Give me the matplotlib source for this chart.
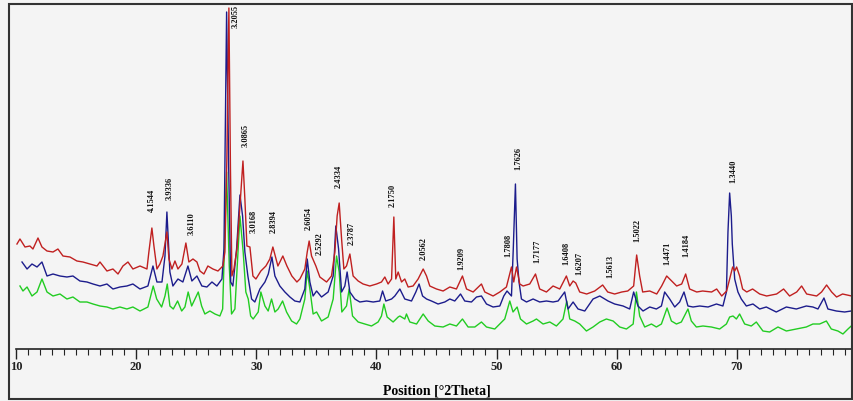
# XRD pattern of three samples with d-spacing labels on the main reflections
import matplotlib.pyplot as plt
from matplotlib.patches import Rectangle
from matplotlib.ticker import MultipleLocator

plt.rcParams['font.family'] = ['Liberation Serif', 'DejaVu Serif']

# --- data (2theta in degrees, intensity in arbitrary offset units) ---
red_theta = [10.08, 10.33, 10.75, 11.16, 11.41, 11.83, 12.16, 12.58, 13.08, 13.49, 13.91, 14.49,
             15.07, 15.57, 16.16, 16.74, 16.99, 17.57, 18.07, 18.49, 18.90, 19.32, 19.73, 20.32,
             20.90, 21.06, 21.31, 21.48, 21.73, 21.98, 22.23, 22.56, 22.73, 22.98, 23.23, 23.48,
             23.81, 24.14, 24.39, 24.73, 25.06, 25.31, 25.64, 25.97, 26.39, 26.81, 27.22, 27.39,
             27.55, 27.72, 27.85, 27.97, 28.14, 28.39, 28.64, 28.89, 29.05, 29.22, 29.47, 29.72,
             29.97, 30.38, 30.80, 31.13, 31.38, 31.80, 32.21, 32.55, 32.96, 33.38, 33.63, 34.04,
             34.24, 34.40, 34.60, 34.96, 35.29, 35.85, 36.26, 36.54, 36.73, 36.90, 37.10, 37.29,
             37.51, 37.79, 38.06, 38.48, 38.89, 39.45, 40.01, 40.42, 40.70, 40.97, 41.26, 41.45,
             41.61, 41.81, 42.09, 42.36, 42.64, 43.05, 43.47, 43.89, 44.17, 44.44, 45.00, 45.55,
             46.11, 46.66, 47.16, 47.50, 48.05, 48.74, 49.02, 49.71, 50.27, 50.82, 51.24, 51.43,
             51.66, 51.93, 52.21, 52.76, 53.24, 53.59, 54.15, 54.70, 55.26, 55.81, 56.09, 56.37,
             56.59, 56.92, 57.50, 58.17, 58.83, 59.25, 59.83, 60.42, 60.92, 61.41, 61.66, 61.91,
             62.16, 62.75, 63.33, 63.74, 64.16, 64.58, 64.99, 65.41, 65.74, 66.07, 66.66, 67.15,
             67.90, 68.32, 68.74, 69.15, 69.40, 69.65, 69.82, 69.98, 70.23, 70.48, 70.82, 71.31,
             71.90, 72.48, 73.31, 73.89, 74.39, 74.98, 75.39, 75.81, 76.64, 77.05, 77.47, 77.89,
             78.30, 78.80, 79.55]
red_counts = [105, 110, 102, 103, 100, 111, 102, 98, 97, 100, 93, 92,
              88, 87, 85, 83, 87, 78, 80, 75, 83, 87, 80, 83,
              80, 97, 121, 103, 80, 85, 93, 117, 90, 80, 88, 80,
              85, 106, 87, 90, 87, 78, 75, 83, 80, 78, 83, 97,
              190, 341, 180, 73, 80, 100, 143, 188, 150, 103, 102, 73,
              70, 78, 83, 90, 102, 83, 93, 83, 73, 67, 70, 80,
              97, 108, 93, 83, 72, 67, 73, 97, 133, 146, 110, 80,
              83, 95, 73, 68, 65, 63, 65, 67, 72, 65, 70, 132,
              70, 77, 67, 70, 62, 63, 70, 80, 73, 63, 60, 58,
              62, 60, 73, 60, 57, 65, 57, 53, 57, 62, 82, 67,
              82, 65, 63, 65, 75, 60, 57, 63, 60, 73, 63, 68,
              66, 57, 55, 58, 64, 57, 55, 57, 58, 63, 94, 73,
              57, 58, 55, 63, 73, 68, 63, 65, 75, 60, 57, 58,
              57, 60, 53, 58, 70, 82, 78, 82, 73, 60, 57, 60,
              55, 53, 55, 60, 53, 57, 63, 55, 53, 57, 64, 57,
              52, 55, 53]

blue_theta = [10.50, 10.92, 11.33, 11.75, 12.16, 12.58, 13.08, 13.66, 14.24, 14.74, 15.32, 15.91,
              16.41, 16.99, 17.57, 18.07, 18.65, 19.23, 19.73, 20.32, 20.98, 21.40, 21.73, 22.15,
              22.40, 22.56, 22.81, 23.06, 23.48, 23.89, 24.31, 24.64, 25.06, 25.47, 25.89, 26.31,
              26.72, 27.14, 27.31, 27.53, 27.70, 27.87, 28.05, 28.36, 28.64, 28.86, 29.05, 29.30,
              29.61, 29.88, 30.30, 30.72, 31.00, 31.30, 31.55, 31.96, 32.38, 32.80, 33.21, 33.63,
              34.04, 34.24, 34.46, 34.73, 35.02, 35.43, 35.98, 36.40, 36.62, 36.85, 37.10, 37.37,
              37.56, 37.79, 38.20, 38.62, 39.18, 39.73, 40.28, 40.51, 40.78, 41.26, 41.53, 41.95,
              42.36, 42.92, 43.28, 43.55, 43.84, 44.17, 44.58, 45.13, 45.69, 46.11, 46.52, 47.00,
              47.35, 47.91, 48.33, 48.74, 49.16, 49.71, 50.27, 50.60, 50.87, 51.24, 51.39, 51.57,
              51.71, 51.87, 52.07, 52.49, 53.04, 53.59, 54.15, 54.70, 55.12, 55.42, 55.67, 55.95,
              56.37, 56.78, 57.34, 58.03, 58.59, 59.28, 59.83, 60.53, 61.08, 61.41, 61.77, 62.19,
              62.75, 63.30, 63.72, 63.99, 64.41, 64.83, 65.24, 65.60, 65.93, 66.35, 66.91, 67.60,
              68.30, 68.84, 69.13, 69.26, 69.40, 69.54, 69.62, 69.82, 70.09, 70.37, 70.79, 71.34,
              71.90, 72.45, 73.28, 74.12, 74.95, 75.78, 76.33, 76.75, 77.25, 77.58, 78.28, 78.97,
              79.52]
blue_counts = [87, 80, 85, 82, 87, 73, 75, 73, 72, 73, 68, 67,
               65, 63, 65, 60, 62, 63, 65, 60, 63, 83, 67, 67,
               93, 137, 77, 63, 70, 67, 83, 68, 73, 63, 62, 67,
               63, 70, 100, 337, 183, 67, 63, 100, 154, 133, 97, 73,
               50, 47, 60, 67, 75, 92, 73, 63, 57, 52, 48, 47,
               60, 90, 67, 53, 58, 52, 57, 73, 123, 100, 57, 63,
               77, 57, 50, 47, 48, 47, 48, 58, 48, 50, 53, 60,
               50, 48, 57, 65, 53, 50, 48, 45, 47, 50, 48, 55,
               48, 47, 52, 53, 45, 42, 43, 53, 58, 53, 100, 165,
               90, 67, 50, 47, 50, 47, 48, 47, 48, 53, 57, 40,
               47, 40, 38, 50, 53, 48, 45, 43, 40, 57, 43, 38,
               42, 40, 43, 57, 50, 42, 47, 57, 43, 42, 43, 42,
               45, 43, 57, 117, 156, 133, 105, 70, 57, 50, 43, 45,
               40, 42, 37, 42, 40, 43, 42, 40, 51, 40, 38, 37,
               38]

green_theta = [10.33, 10.58, 10.92, 11.33, 11.75, 12.16, 12.58, 13.08, 13.66, 14.24, 14.74, 15.32,
               15.91, 16.41, 16.99, 17.57, 18.07, 18.65, 19.23, 19.73, 20.32, 20.98, 21.29, 21.42,
               21.71, 22.12, 22.40, 22.59, 22.81, 23.09, 23.45, 23.79, 24.06, 24.33, 24.62, 24.89,
               25.17, 25.45, 25.72, 26.14, 26.56, 26.97, 27.20, 27.39, 27.53, 27.75, 27.94, 28.22,
               28.41, 28.64, 28.91, 29.13, 29.33, 29.53, 29.74, 30.16, 30.38, 30.72, 30.99, 31.27,
               31.55, 31.82, 32.19, 32.52, 32.94, 33.35, 33.63, 34.04, 34.24, 34.46, 34.73, 35.02,
               35.43, 35.98, 36.40, 36.68, 36.90, 37.12, 37.51, 37.73, 38.01, 38.48, 39.03, 39.59,
               40.14, 40.42, 40.62, 40.89, 41.39, 41.81, 41.95, 42.36, 42.50, 42.78, 43.34, 43.89,
               44.31, 44.86, 45.55, 46.11, 46.66, 47.16, 47.63, 48.19, 48.74, 49.16, 49.85, 50.27,
               50.68, 51.10, 51.37, 51.71, 51.99, 52.49, 53.04, 53.32, 53.87, 54.43, 54.98, 55.53,
               55.84, 56.09, 56.51, 56.92, 57.48, 58.03, 58.59, 59.14, 59.70, 60.25, 60.81, 61.37,
               61.64, 61.91, 62.33, 62.89, 63.30, 63.72, 64.19, 64.55, 64.97, 65.38, 65.93, 66.21,
               66.63, 67.18, 67.88, 68.57, 69.13, 69.40, 69.68, 69.96, 70.23, 70.65, 71.20, 71.62,
               72.17, 72.73, 73.42, 74.12, 74.95, 75.78, 76.33, 76.89, 77.45, 77.86, 78.41, 78.83,
               79.25, 79.52]
green_counts = [63, 58, 62, 53, 57, 70, 57, 53, 55, 50, 52, 47,
                47, 45, 43, 42, 40, 42, 40, 42, 38, 42, 57, 63,
                50, 42, 53, 65, 43, 40, 48, 38, 42, 57, 43, 50,
                57, 43, 35, 38, 35, 33, 40, 117, 177, 83, 35, 40,
                83, 133, 97, 57, 50, 33, 30, 37, 57, 43, 38, 50,
                37, 40, 48, 37, 28, 25, 30, 50, 78, 60, 35, 37,
                28, 32, 50, 93, 77, 37, 43, 60, 33, 27, 25, 23,
                27, 33, 45, 32, 27, 32, 33, 30, 35, 27, 25, 35,
                28, 23, 22, 25, 23, 30, 22, 22, 27, 22, 20, 25,
                30, 48, 37, 42, 30, 25, 28, 30, 25, 27, 23, 30,
                48, 30, 28, 25, 18, 22, 27, 30, 28, 22, 20, 25,
                57, 33, 22, 25, 22, 25, 41, 28, 25, 27, 40, 28,
                22, 23, 22, 20, 25, 32, 33, 30, 35, 25, 23, 27,
                18, 17, 22, 18, 20, 22, 25, 25, 28, 20, 18, 15,
                20, 23]

# d-spacing labels: text, 2theta position, height of the label foot
d_labels = ['3.2055', '4.1544', '3.9336', '3.6110', '3.0865', '3.0168', '2.8394', '2.6054',
            '2.5292', '2.4334', '2.3787', '2.1750', '2.0562', '1.9209', '1.7808', '1.7626',
            '1.7177', '1.6408', '1.6207', '1.5613', '1.5022', '1.4471', '1.4184', '1.3440']
d_theta = [28.30, 21.31, 22.81, 24.64, 29.14, 29.80, 31.46, 34.40,
           35.29, 36.90, 37.95, 41.37, 43.95, 47.10, 51.02, 51.85,
           53.43, 55.84, 56.92, 59.50, 61.75, 64.24, 65.83, 69.73]
d_foot = [322, 138, 150, 115, 203, 117, 117, 120,
          95, 162, 105, 143, 90, 80, 93, 180,
          87, 85, 75, 72, 108, 85, 93, 167]


def xrd_plot():
    """
    Draw the three stacked diffraction patterns with peak labels.
    """
    fig = plt.figure(figsize=(8.54, 4.02), dpi=100, facecolor='#f4f4f4')
    ax = fig.add_axes([16 / 854, 52 / 402, 841 / 854, 344 / 402])
    ax.set_facecolor('#f4f4f4')

    ax.plot(green_theta, green_counts, color='#22cc22', lw=1.0)
    ax.plot(blue_theta, blue_counts, color='#1c1c8c', lw=1.0)
    ax.plot(red_theta, red_counts, color='#c02020', lw=1.0)

    for txt, x, y in zip(d_labels, d_theta, d_foot):
        ax.text(x, y, txt, rotation=90, ha='center', va='bottom',
                fontsize=6, fontweight='bold', color='#111111')

    ax.set_xlim(10, 80)
    ax.set_ylim(0, 344)
    for side in ['left', 'top', 'right']:
        ax.spines[side].set_visible(False)
    ax.spines['bottom'].set_color('#222222')
    ax.spines['bottom'].set_linewidth(1.2)
    ax.set_yticks([])
    ax.xaxis.set_major_locator(MultipleLocator(10))
    ax.xaxis.set_minor_locator(MultipleLocator(1))
    ax.tick_params(axis='x', which='major', length=7, width=1, direction='out',
                   labelsize=9, pad=1, colors='#222222')
    ax.tick_params(axis='x', which='minor', length=4, width=0.8, direction='out',
                   colors='#222222')
    for lab in ax.get_xticklabels():
        lab.set_fontweight('bold')
    ax.set_xlabel('Position [°2Theta]', fontsize=10, fontweight='bold', labelpad=8)

    # outer frame round the whole picture
    fig.patches.append(Rectangle((9 / 854, 2 / 402), 843 / 854, 395 / 402,
                                 transform=fig.transFigure, fill=False,
                                 edgecolor='#333333', linewidth=1.5))
    fig.savefig('out.png', dpi=100, facecolor=fig.get_facecolor())


def main():
    xrd_plot()


if __name__ == '__main__':
    main()
